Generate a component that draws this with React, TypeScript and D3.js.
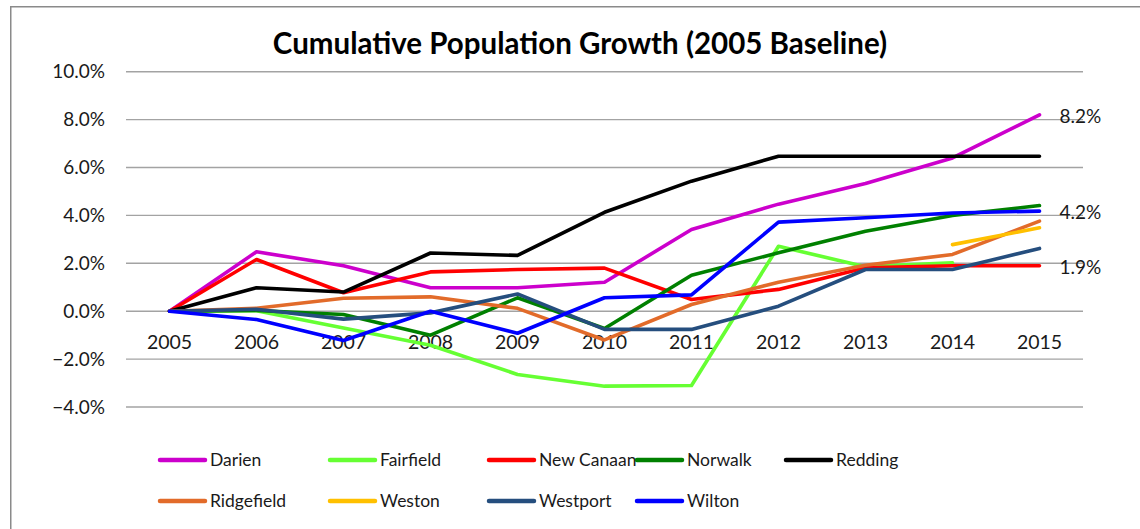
import React from "react";
import * as d3 from "d3";

const years: string[] = ["2005", "2006", "2007", "2008", "2009", "2010", "2011", "2012", "2013", "2014", "2015"];
const yTicks: number[] = [-4, -2, 0, 2, 4, 6, 8, 10];

const darien: (number | null)[] = [0, 2.48, 1.9, 0.98, 0.98, 1.21, 3.41, 4.47, 5.33, 6.4, 8.2];
const fairfield: (number | null)[] = [0, 0.02, -0.7, -1.42, -2.64, -3.13, -3.1, 2.71, 1.86, 2.02, null];
const newCanaan: (number | null)[] = [0, 2.16, 0.77, 1.64, 1.74, 1.8, 0.49, 0.91, 1.81, 1.9, 1.9];
const norwalk: (number | null)[] = [0, 0.03, -0.14, -1.0, 0.56, -0.72, 1.5, 2.44, 3.34, 4.0, 4.41];
const redding: (number | null)[] = [0, 0.98, 0.8, 2.43, 2.33, 4.13, 5.43, 6.47, 6.47, 6.47, 6.47];
const ridgefield: (number | null)[] = [0, 0.12, 0.54, 0.6, 0.12, -1.2, 0.28, 1.21, 1.92, 2.37, 3.76];
const weston: (number | null)[] = [null, null, null, null, null, null, null, null, null, 2.78, 3.48];
const westport: (number | null)[] = [0, 0.08, -0.33, -0.07, 0.72, -0.76, -0.76, 0.21, 1.74, 1.74, 2.62];
const wilton: (number | null)[] = [0, -0.35, -1.22, 0, -0.92, 0.56, 0.68, 3.72, 3.9, 4.1, 4.18];

const seriesNames: string[] = ["Darien", "Fairfield", "New Canaan", "Norwalk", "Redding", "Ridgefield", "Weston", "Westport", "Wilton"];
const seriesColors: string[] = ["#CC00CC", "#66FF33", "#FF0000", "#008000", "#000000", "#E26B2A", "#FFC000", "#254E7E", "#0000FF"];
const seriesValues = [darien, fairfield, newCanaan, norwalk, redding, ridgefield, weston, westport, wilton];

// end labels: series index and label text
const endLabelSeries: number[] = [0, 8, 2];
const endLabelText: string[] = ["8.2%", "4.2%", "1.9%"];

const title = "Cumulative Population Growth (2005 Baseline)";

export default function App() {
  const W = 1140, H = 529;
  const plotLeft = 126, plotRight = 1083, plotTop = 71.7, plotBottom = 407;
  const x = d3.scalePoint<string>().domain(years).range([plotLeft, plotRight]).padding(0.5);
  const y = d3.scaleLinear().domain([-4, 10]).range([plotBottom, plotTop]);
  const line = d3
    .line<number | null>()
    .defined((d) => d !== null)
    .x((_, i) => x(years[i]) as number)
    .y((d) => y(d as number));

  const font = "Lato, 'Open Sans', sans-serif";
  const textColor = "#1a1a1a";

  const legendCols = [160, 330, 489, 637, 786];
  const legendRows = [460, 501];

  return (
    <svg width={W} height={H} style={{ position: "absolute", left: 0, top: 0, background: "#fff" }}>
      <rect x={0} y={0} width={W} height={H} fill="#fff" />
      <path d={`M10.75,${H + 5} V6.75 H${W + 5}`} fill="none" stroke="#8a8a8a" strokeWidth={1.5} />
      <text x={580} y={54} textAnchor="middle" fontFamily={font} fontWeight={700} fontSize={29.5} fill="#000">
        {title}
      </text>
      {yTicks.map((t) => (
        <g key={t}>
          <line x1={plotLeft} x2={plotRight} y1={y(t)} y2={y(t)} stroke="#a3a3a3" strokeWidth={1.4} />
          <text x={105} y={y(t)} dy="0.35em" textAnchor="end" fontFamily={font} fontSize={19} fill={textColor}>
            {d3.format(".1f")(t) + "%"}
          </text>
        </g>
      ))}
      {years.map((yr) => (
        <text key={yr} x={x(yr) as number} y={y(0) + 31} dy="0.35em" textAnchor="middle" fontFamily={font} fontSize={19.5} fill={textColor}>
          {yr}
        </text>
      ))}
      {seriesValues.map((vals, i) => (
        <path key={seriesNames[i]} d={line(vals) || ""} fill="none" stroke={seriesColors[i]} strokeWidth={3.6} strokeLinejoin="round" strokeLinecap="round" />
      ))}
      {endLabelSeries.map((si, k) => {
        const vals = seriesValues[si];
        const last = vals[vals.length - 1] as number;
        return (
          <text key={k} x={(x(years[years.length - 1]) as number) + 20} y={y(last) + 1.5} dy="0.35em" fontFamily={font} fontSize={19} fill={textColor}>
            {endLabelText[k]}
          </text>
        );
      })}
      {seriesNames.map((name, i) => {
        const col = i % 5;
        const row = Math.floor(i / 5);
        const lx = legendCols[col];
        const ly = legendRows[row];
        return (
          <g key={name}>
            <line x1={lx} x2={lx + 45} y1={ly} y2={ly} stroke={seriesColors[i]} strokeWidth={4.5} strokeLinecap="round" />
            <text x={lx + 50} y={ly} dy="0.35em" fontFamily={font} fontSize={17.5} fill={textColor}>
              {name}
            </text>
          </g>
        );
      })}
    </svg>
  );
}
